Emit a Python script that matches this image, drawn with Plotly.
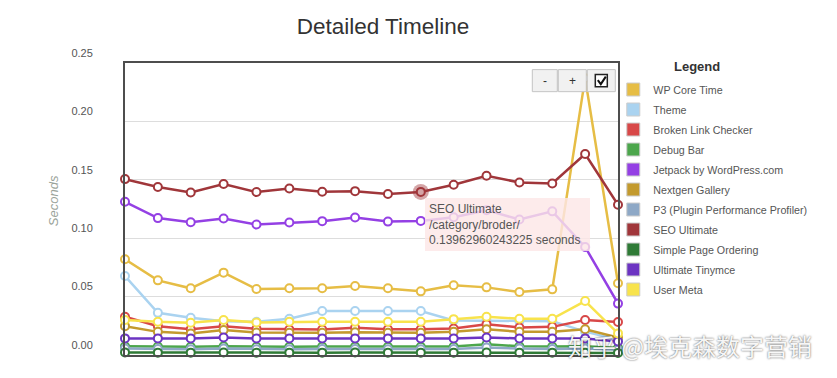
import plotly.graph_objects as go

# ---------------- data ----------------
points = list(range(16))
series_names = ["WP Core Time", "Theme", "Broken Link Checker", "Debug Bar",
                "Jetpack by WordPress.com", "Nextgen Gallery",
                "P3 (Plugin Performance Profiler)", "SEO Ultimate",
                "Simple Page Ordering", "Ultimate Tinymce", "User Meta"]

wp_core = [0.0820, 0.0639, 0.0571, 0.0705, 0.0565, 0.0571, 0.0571, 0.0591,
           0.0571, 0.0545, 0.0597, 0.0579, 0.0539, 0.0562, 0.2370, 0.0614]
theme = [0.0676, 0.0361, 0.0319, 0.0290, 0.0285, 0.0310, 0.0376, 0.0376,
         0.0376, 0.0376, 0.0295, 0.0295, 0.0290, 0.0290, 0.0200, 0.0130]
broken_link = [0.0327, 0.0247, 0.0221, 0.0247, 0.0224, 0.0219, 0.0219, 0.0233,
               0.0221, 0.0221, 0.0227, 0.0264, 0.0236, 0.0241, 0.0299, 0.0282]
debug_bar = [0.0075, 0.0072, 0.0070, 0.0075, 0.0070, 0.0070, 0.0072, 0.0072,
             0.0070, 0.0070, 0.0072, 0.0092, 0.0075, 0.0072, 0.0075, 0.0060]
jetpack = [0.1312, 0.1172, 0.1137, 0.1168, 0.1117, 0.1134, 0.1146, 0.1177,
           0.1142, 0.1148, 0.1180, 0.1240, 0.1160, 0.1230, 0.0925, 0.0440]
nextgen = [0.0247, 0.0198, 0.0185, 0.0213, 0.0193, 0.0190, 0.0190, 0.0195,
           0.0190, 0.0190, 0.0198, 0.0221, 0.0198, 0.0198, 0.0221, 0.0150]
p3 = [0.0056, 0.0052, 0.0050, 0.0055, 0.0050, 0.0050, 0.0052, 0.0052,
      0.0050, 0.0050, 0.0052, 0.0065, 0.0055, 0.0052, 0.0055, 0.0045]
seo = [0.1506, 0.1438, 0.1391, 0.1464, 0.1395, 0.1426, 0.1397, 0.1403,
       0.1378, 0.13962960243225, 0.1458, 0.1535, 0.1477, 0.1469, 0.1721, 0.1286]
simple_order = [0.0021, 0.0020, 0.0020, 0.0021, 0.0020, 0.0020, 0.0020, 0.0021,
                0.0020, 0.0020, 0.0020, 0.0022, 0.0020, 0.0020, 0.0020, 0.0018]
tinymce = [0.0142, 0.0142, 0.0142, 0.0150, 0.0142, 0.0142, 0.0142, 0.0142,
           0.0142, 0.0142, 0.0142, 0.0150, 0.0142, 0.0142, 0.0142, 0.0115]
user_meta = [0.0299, 0.0284, 0.0276, 0.0299, 0.0279, 0.0284, 0.0284, 0.0284,
             0.0284, 0.0284, 0.0307, 0.0327, 0.0310, 0.0310, 0.0462, 0.0185]

series_values = [wp_core, theme, broken_link, debug_bar, jetpack, nextgen,
                 p3, seo, simple_order, tinymce, user_meta]
series_colors = ["#e6bd45", "#aad3f0", "#d84848", "#4ca64c", "#9440e4",
                 "#c39a2e", "#8ea8c6", "#a0363a", "#2f7a36", "#6c34c2", "#f8e34c"]

y_ticks = [0.00, 0.05, 0.10, 0.15, 0.20, 0.25]
hover_series = "SEO Ultimate"
hover_index = 9
hover_path = "/category/broder/"

# ---------------- geometry helpers ----------------
W, H = 837, 378
L, R, T, B = 124.7, 617.7, 63.4, 354.8


def px(x):
    return (x - L) / (R - L)


def py(y):
    return (B - y) / (B - T)


fig = go.Figure()

for name, vals, col in zip(series_names, series_values, series_colors):
    fig.add_trace(go.Scatter(
        x=points, y=vals, mode="lines+markers", name=name,
        line=dict(color=col, width=2.5),
        marker=dict(size=8, color="white", line=dict(color=col, width=2)),
        showlegend=False, cliponaxis=False, hoverinfo="skip"))
    if name == hover_series:
        fig.add_trace(go.Scatter(
            x=[points[hover_index]], y=[vals[hover_index]], mode="markers",
            marker=dict(size=16, color="rgba(160,54,58,0.45)"),
            showlegend=False, cliponaxis=False, hoverinfo="skip"))

# legend swatches
for name, col in zip(series_names, series_colors):
    fig.add_trace(go.Scatter(
        x=[None], y=[None], mode="markers", name=name, legendgroup=name,
        marker=dict(symbol="square", size=13, color=col,
                    line=dict(color="#cccccc", width=1)),
        showlegend=True))

shapes = []
annotations = []

# ---------------- zoom buttons ----------------
for (x0, x1, label) in [(532, 557, "-"), (558, 586, "+"), (587, 615, "")]:
    shapes.append(dict(type="rect", xref="paper", yref="paper",
                       x0=px(x0), x1=px(x1), y0=py(92), y1=py(70),
                       fillcolor="#f1f1f1", line=dict(color="#c4c4c4", width=1),
                       layer="above"))
    if label:
        annotations.append(dict(x=px((x0 + x1) / 2), y=py(81), xref="paper", yref="paper",
                                xanchor="center", yanchor="middle",
                                text=label, showarrow=False,
                                font=dict(family="Arial, Liberation Sans", size=12, color="#333")))

# checkbox
shapes.append(dict(type="rect", xref="paper", yref="paper",
                   x0=px(595), x1=px(607), y0=py(87), y1=py(75),
                   fillcolor="white", line=dict(color="#222", width=1.5), layer="above"))
shapes.append(dict(type="path", xref="paper", yref="paper",
                   path=(f"M {px(597.5):.5f},{py(80.5):.5f} L {px(600.5):.5f},{py(84.5):.5f} "
                         f"L {px(605.5):.5f},{py(77):.5f}"),
                   line=dict(color="#111", width=2), layer="above"))

# tooltip
hv = series_values[series_names.index(hover_series)][hover_index]
annotations.append(dict(
    x=px(425), y=py(198), xref="paper", yref="paper", xanchor="left", yanchor="top",
    text=f"{hover_series}<br>{hover_path}<br>{hv} seconds",
    showarrow=False, align="left", bgcolor="rgba(253,230,230,0.82)",
    borderpad=4, borderwidth=0, width=157,
    font=dict(family="Arial, Liberation Sans", size=12, color="#555")))

# y axis title
annotations.append(dict(
    x=px(54), y=py(201), xref="paper", yref="paper", text="Seconds",
    xanchor="center", yanchor="middle",
    textangle=-90, showarrow=False,
    font=dict(family="Arial, Liberation Sans", size=13, color="#9aa39a", style="italic")))

# legend heading
annotations.append(dict(
    x=px(697), y=py(67), xref="paper", yref="paper", text="<b>Legend</b>",
    xanchor="center", yanchor="middle", showarrow=False,
    font=dict(family="Arial, Liberation Sans", size=13, color="#333")))

# watermark
annotations.append(dict(
    x=px(690), y=py(345), xref="paper", yref="paper", text="知乎 @埃克森数字营销",
    xanchor="center", yanchor="middle",
    showarrow=False,
    font=dict(family="Noto Sans CJK SC", size=24, color="rgba(255,255,255,0.95)",
              shadow="0px 0px 2px rgba(0,0,0,0.75)")))

fig.update_layout(
    width=W, height=H,
    margin=dict(l=L, r=W - R, t=T, b=H - B, pad=0, autoexpand=False),
    paper_bgcolor="white", plot_bgcolor="white",
    title=dict(text="Detailed Timeline", x=383 / W, xref="container", xanchor="center",
               y=1 - 26 / H, yref="container", yanchor="middle",
               font=dict(family="Arial, Liberation Sans", size=22.5, color="#333")),
    xaxis=dict(range=[points[0], points[-1]], showgrid=False, zeroline=False,
               showticklabels=False, ticks="", showline=True, mirror=True,
               linecolor="#4d4d4d", linewidth=2),
    yaxis=dict(range=[y_ticks[0], y_ticks[-1]], tickvals=y_ticks, tickformat=".2f",
               showgrid=True, gridcolor="#dddddd", gridwidth=1, zeroline=False,
               ticks="", showline=True, mirror=True, linecolor="#4d4d4d", linewidth=2,
               ticklabelshift=-10, ticklabelstandoff=28,
               tickfont=dict(family="Arial, Liberation Sans", size=11, color="#555")),
    legend=dict(x=px(613), y=1 - 75 / H, xanchor="left", yanchor="top",
                xref="paper", yref="container", maxheight=1,
                font=dict(family="Arial, Liberation Sans", size=10.7, color="#555"),
                tracegroupgap=1, bgcolor="rgba(0,0,0,0)", itemclick=False),
    shapes=shapes, annotations=annotations,
    hovermode=False, showlegend=True,
)

fig.write_html("out.html", config={"displayModeBar": False},
               post_script="document.body.style.margin='0';document.body.style.overflow='hidden';")
